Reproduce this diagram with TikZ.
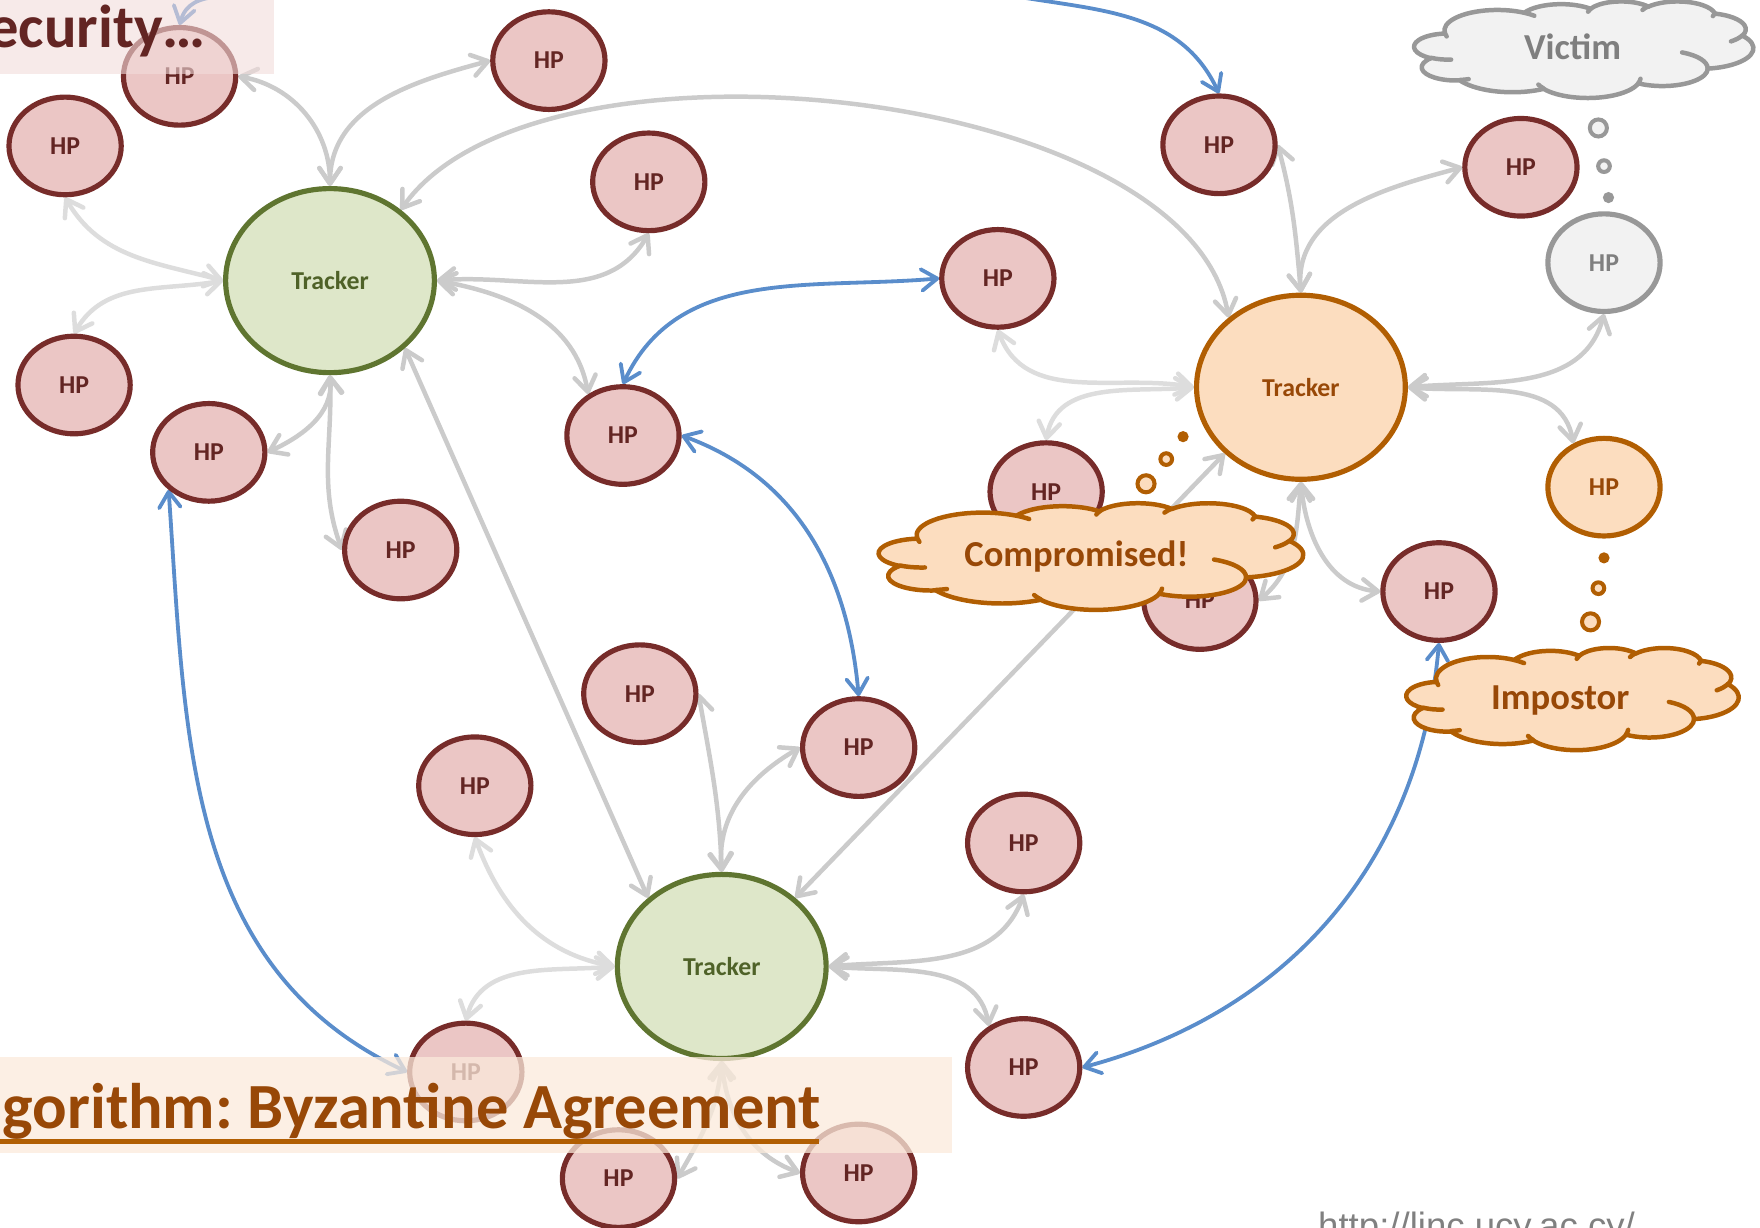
\documentclass[tikz,border=0pt]{standalone}
\usepackage{fontspec}
\setmainfont{Carlito}
\newfontfamily\urlfont{Liberation Sans}
\usetikzlibrary{shapes.geometric,arrows.meta}
\frenchspacing

\definecolor{hpfill}{HTML}{EBC6C5}
\definecolor{hpline}{HTML}{772C2A}
\definecolor{hptext}{HTML}{632523}
\definecolor{grfill}{HTML}{DEE7C9}
\definecolor{grline}{HTML}{5F7530}
\definecolor{grtext}{HTML}{4F6228}
\definecolor{orfill}{HTML}{FCDDBF}
\definecolor{orline}{HTML}{B15E02}
\definecolor{ortext}{HTML}{984807}
\definecolor{gyfill}{HTML}{F2F2F2}
\definecolor{gyline}{HTML}{989898}
\definecolor{gytext}{HTML}{7F7F7F}
\definecolor{link}{HTML}{CBCBCB}
\definecolor{linklt}{HTML}{DDDDDD}
\definecolor{bluelink}{HTML}{5A8DCB}
\definecolor{bandtop}{HTML}{F2DCDB}
\definecolor{bandbot}{HTML}{FBEADB}
\definecolor{urlgray}{HTML}{808080}

\pgfdeclarelayer{edges}
\pgfdeclarelayer{front}
\pgfsetlayers{edges,main,front}

% elliptic arc given by radii, start angle and sweep measured on screen
% (clockwise, y pointing down), converted to TikZ's parametric angles
\newcommand\oarc[4]{%
  arc[start angle={-atan2(#1*sin(#3),#2*cos(#3))},
      delta angle={-mod(atan2(#1*sin(#3+#4),#2*cos(#3+#4))-atan2(#1*sin(#3),#2*cos(#3))+720,360)},
      x radius=#1, y radius=#2]}

% cloud callout outline in a 43.2 x 43.2 box; #1 shift, #2 x unit, #3 y unit,
% #4 line colour, #5 fill colour
\newcommand\cloudshape[5]{%
\begin{scope}[shift={#1}, x=#2, y=#3]
\filldraw[draw=#4, fill=#5, line width=2pt, line join=round]
 (3.900,-14.370)
 \oarc{6.753}{9.190}{-190.4875}{123.7805}
 \oarc{5.333}{7.267}{-144.1024}{89.9452}
 \oarc{4.365}{5.945}{-145.8079}{99.7230}
 \oarc{4.857}{6.595}{-130.9861}{117.2417}
 \oarc{5.333}{7.273}{-78.7089}{109.0269}
 \oarc{6.775}{9.220}{-46.2673}{130.2690}
 \oarc{5.785}{7.867}{0.6250}{114.0333}
 \oarc{6.752}{9.215}{22.4516}{115.1726}
 \oarc{7.720}{10.543}{66.2426}{75.7110}
 \oarc{4.360}{5.918}{-274.9421}{146.7356}
 \oarc{4.345}{5.945}{-246.8285}{152.5189}
 -- cycle;
\draw[#4, line width=2pt, line cap=round]
 (4.693,-26.177) \oarc{4.345}{5.945}{86.742}{26.430}
 (6.928,-34.899) \oarc{4.360}{5.918}{73.610}{11.447}
 (16.478,-39.090) \oarc{6.752}{9.215}{137.624}{14.081}
 (28.827,-34.751) \oarc{6.752}{9.215}{6.453}{15.998}
 (34.129,-22.954) \oarc{5.785}{7.867}{-70.292}{70.917}
 (41.798,-15.354) \oarc{5.333}{7.273}{30.318}{27.750}
 (38.324,-5.426) \oarc{4.857}{6.595}{13.744}{14.859}
 (29.078,-3.952) \oarc{4.857}{6.595}{-149.181}{18.195}
 (22.141,-4.720) \oarc{4.365}{5.945}{-163.494}{17.686}
 (14.000,-5.192) \oarc{6.753}{9.190}{-66.707}{12.319}
 (4.127,-15.789) \oarc{6.753}{9.190}{157.654}{11.858};
\end{scope}}

\tikzset{
  barb/.tip={Straight Barb[length=7pt,width=9.5pt,round]},
  hp/.style={ellipse, draw=hpline, fill=hpfill, line width=2.3pt,
    minimum width=50pt, minimum height=43.5pt, inner sep=0pt,
    font=\bfseries\fontsize{11.5}{12}\selectfont, text=hptext},
  hporange/.style={hp, draw=orline, fill=orfill, text=ortext},
  hpgray/.style={hp, draw=gyline, fill=gyfill, text=gytext},
  trk/.style={ellipse, line width=2.3pt, minimum width=93pt,
    minimum height=82pt, inner sep=0pt,
    font=\bfseries\fontsize{11.5}{12}\selectfont},
  trkgreen/.style={trk, draw=grline, fill=grfill, text=grtext},
  trkorange/.style={trk, draw=orline, fill=orfill, text=ortext},
  lnk/.style={draw=link, line width=2pt, barb-barb},
  lnklt/.style={draw=linklt, line width=2pt, barb-barb},
  blu/.style={draw=bluelink, line width=1.7pt},
  cloudtext/.style={inner sep=0pt, font=\bfseries\fontsize{16.3}{18}\selectfont},
  ring/.style={line width=1.8pt},
}

\begin{document}
\begin{tikzpicture}[x=0.5pt,y=0.5pt]
\useasboundingbox (0,0) rectangle (1568,-1094);
\clip (0,0) rectangle (1568,-1094);

% hosts
\node[hp] (h1)  at (160,-68)   {HP};
\node[hp] (h2)  at (58,-130)   {HP};
\node[hp] (h3)  at (489,-54)   {HP};
\node[hp] (h4)  at (578,-162)  {HP};
\node[hp] (h5)  at (66,-343)   {HP};
\node[hp] (h6)  at (186,-403)  {HP};
\node[hp] (h7)  at (357,-490)  {HP};
\node[hp] (h8)  at (555,-388)  {HP};
\node[hp] (h9)  at (889,-248)  {HP};
\node[hp] (h10) at (1086,-129) {HP};
\node[hp] (h11) at (1355,-149) {HP};
\node[hpgray] (h12) at (1429,-234) {HP};
\node[hporange] (h13) at (1429,-434) {HP};
\node[hp] (h14) at (932,-438)  {HP};
\node[hp] (h15) at (1069,-535) {HP};
\node[hp] (h16) at (1282,-527) {HP};
\node[hp] (h17) at (570,-618)  {HP};
\node[hp] (h18) at (765,-666)  {HP};
\node[hp] (h19) at (423,-700)  {HP};
\node[hp] (h20) at (912,-751)  {HP};
\node[hp] (h21) at (912,-951)  {HP};
\node[hp] (h22) at (415,-955)  {HP};
\node[hp] (h23) at (551,-1050) {HP};
\node[hp] (h24) at (765,-1045) {HP};

% trackers
\node[trkgreen]  (t1) at (294,-250) {Tracker};
\node[trkorange] (t2) at (1159,-345) {Tracker};
\node[trkgreen]  (t3) at (643,-861) {Tracker};

\coordinate (in1) at (880,8);
\coordinate (in2) at (250,8);

\begin{pgfonlayer}{edges}
% first tracker
\draw[lnk] (h1.east) to[out=-10,in=90] (t1.north);
\draw[lnk] (t1.north) to[out=90,in=195] (h3.west);
\draw[lnk] (t1.45) to[out=55,in=100,looseness=0.72] (t2.136);
\draw[lnklt] (t1.west) to[out=165,in=-60] (h2.south);
\draw[lnklt] (t1.west) to[out=190,in=60] (h5.north);
\draw[lnk] (t1.east) to[out=5,in=-120] (h4.south);
\draw[lnk] (t1.east) to[out=-10,in=100] (h8.130);
\draw[lnk] (t1.south) to[out=-85,in=25] (h6.east);
\draw[lnk] (t1.south) to[out=-88,in=110] (h7.west);
\draw[lnk] (t1.-42) -- (t3.137);
% second tracker
\draw[lnk] (t2.north) to[out=95,in=-75] (h10.east);
\draw[lnk] (t2.north) to[out=95,in=195] (h11.west);
\draw[lnk] (t2.east) to[out=5,in=-105] (h12.south);
\draw[lnk] (t2.east) to[out=-5,in=100] (h13.125);
\draw[lnklt] (t2.west) to[out=170,in=-70] (h9.south);
\draw[lnklt] (t2.west) to[out=185,in=80] (h14.north);
\draw[lnk] (t2.south) to[out=-95,in=40] (h15.east);
\draw[lnk] (t2.south) to[out=-85,in=175] (h16.west);
\draw[lnk] (t2.221) -- (t3.43);
% third tracker
\draw[lnk] (t3.north) to[out=92,in=-80] (h17.east);
\draw[lnk] (t3.north) to[out=95,in=210] (h18.west);
\draw[lnklt] (t3.west) to[out=170,in=-70] (h19.south);
\draw[lnklt] (t3.west) to[out=185,in=75] (h22.north);
\draw[lnk] (t3.east) to[out=5,in=-110] (h20.south);
\draw[lnk] (t3.east) to[out=-5,in=100] (h21.130);
\draw[lnk] (t3.south) to[out=-95,in=60] (h23.east);
\draw[lnk] (t3.south) to[out=-85,in=160] (h24.west);
% peer links
\draw[blu,-barb] (in1) to[out=-12,in=115] (h10.north);
\draw[blu,-barb] (in2) to[out=195,in=75] (h1.north);
\draw[blu,barb-barb] (h8.north) to[out=65,in=185] (h9.west);
\draw[blu,barb-barb] (h8.east) to[out=-20,in=95] (h18.north);
\draw[blu,barb-barb] (h6.223) to[out=-86,in=155] (h22.west);
\draw[blu,barb-barb] (h16.south) to[out=-95,in=15] (h21.east);
\end{pgfonlayer}

\begin{pgfonlayer}{front}
% thought clouds
\cloudshape{(1260,-1)}{3.4954pt}{0.9954pt}{gyline}{gyfill}
\node[cloudtext, text=gytext] (tv) at (1401,-42) {Victim};
\draw[ring, gyline, fill=gyfill] (1424,-114) circle (3.8pt);
\draw[ring, gyline, fill=gyfill] (1429,-148) circle (2.6pt);
\fill[gyline] (1433,-176) circle (2.5pt);

\cloudshape{(783,-448)}{4.375pt}{1.0995pt}{orline}{orfill}
\node[cloudtext, text=ortext] (tc) at (959,-496) {Compromised!};
\draw[ring, orline, fill=orfill] (1021,-431) circle (3.8pt);
\draw[ring, orline, fill=orfill] (1039,-409) circle (2.6pt);
\fill[orline] (1054,-389) circle (2.5pt);

\cloudshape{(1253,-577)}{3.4259pt}{1.0532pt}{orline}{orfill}
\node[cloudtext, text=ortext] (ti) at (1390,-624) {Impostor};
\draw[ring, orline, fill=orfill] (1417,-554) circle (3.8pt);
\draw[ring, orline, fill=orfill] (1424,-524) circle (2.6pt);
\fill[orline] (1429,-497) circle (2.5pt);

% title bands
\fill[bandtop, opacity=0.6] (0,0) rectangle (244,-66);
\node[anchor=base east, inner sep=0pt, text=hptext,
  font=\bfseries\fontsize{27}{29}\selectfont] (ttop) at (184,-42) {ecurity…};
\fill[bandbot, opacity=0.75] (0,-942) rectangle (848,-1027);
\node[anchor=base west, inner sep=0pt, text=ortext,
  font=\bfseries\fontsize{28.7}{30}\selectfont] (tbot) at (2,-1005) {gorithm: Byzantine Agreement};
\draw[orline, line width=2.2pt] (0,-1017) -- (730,-1017);

\node[anchor=base west, inner sep=0pt, text=urlgray,
  font=\urlfont\fontsize{16.3}{18}\selectfont] (url) at (1174,-1103) {http://linc.ucy.ac.cy/};
\end{pgfonlayer}
\end{tikzpicture}
\end{document}
